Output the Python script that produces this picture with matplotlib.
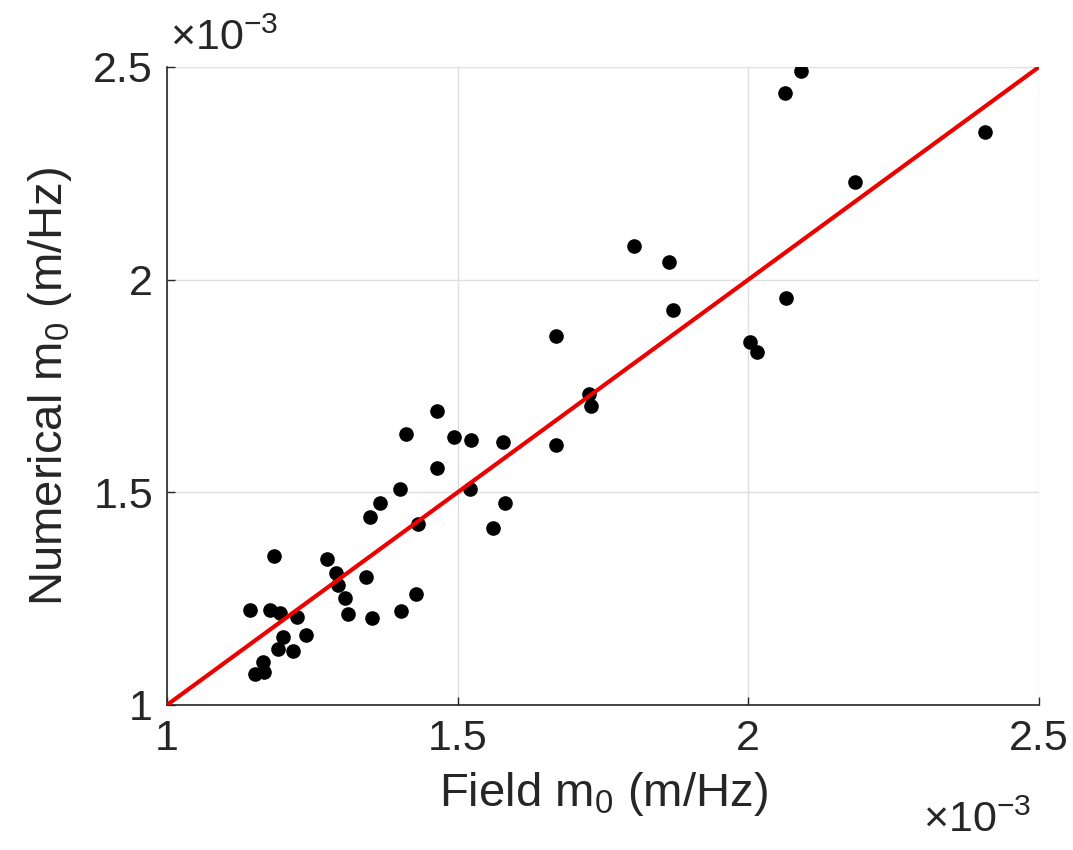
import matplotlib
matplotlib.use("Agg")
import matplotlib.pyplot as plt
import numpy as np

plt.rcParams["font.family"] = ["Liberation Sans", "DejaVu Sans"]
plt.rcParams["mathtext.fontset"] = "custom"
plt.rcParams["mathtext.rm"] = "Liberation Sans"
plt.rcParams["mathtext.it"] = "Liberation Sans"
plt.rcParams["mathtext.bf"] = "Liberation Sans:bold"

# Spectral moment m0 (units of 1e-3 m/Hz): field measurements vs numerical model
field_m0 = [1.465, 1.411, 1.494, 1.465, 1.401, 1.367, 1.349, 1.432, 1.184, 1.276,
            1.291, 1.343, 1.295, 1.307, 1.428, 1.143, 1.177, 1.194, 1.223, 1.312,
            1.353, 1.402, 1.200, 1.240, 1.191, 1.216, 1.165, 1.167, 1.151, 1.870,
            1.669, 1.726, 1.729, 1.523, 1.578, 1.669, 1.521, 1.581, 1.561, 1.804,
            1.863, 2.091, 2.063, 2.407, 2.183, 2.064, 2.003, 2.015]
numerical_m0 = [1.691, 1.637, 1.629, 1.558, 1.508, 1.474, 1.441, 1.426, 1.350, 1.344,
                1.311, 1.302, 1.282, 1.252, 1.262, 1.223, 1.223, 1.216, 1.208, 1.213,
                1.205, 1.221, 1.161, 1.164, 1.131, 1.126, 1.102, 1.078, 1.072, 1.929,
                1.868, 1.731, 1.703, 1.623, 1.618, 1.611, 1.507, 1.474, 1.415, 2.078,
                2.041, 2.491, 2.438, 2.346, 2.229, 1.956, 1.853, 1.831]
line_ends = [1.0, 2.5]
ticks = [1.0, 1.5, 2.0, 2.5]
tick_labels = ["1", "1.5", "2", "2.5"]

txt = (0.15, 0.15, 0.15)

fig = plt.figure(figsize=(10.73, 8.5), dpi=100)
ax = fig.add_axes([0.1556, 0.1706, 0.9683 - 0.1556, 0.9212 - 0.1706])

ax.plot(field_m0, numerical_m0, "o", color="black", ms=9.5, mec="black", zorder=3)
ax.plot(line_ends, line_ends, "-", color=(0.93, 0.0, 0.0), lw=3.0, zorder=4,
        solid_capstyle="butt")

ax.set_xlim(1.0, 2.5)
ax.set_ylim(1.0, 2.5)
ax.set_xticks(ticks)
ax.set_xticklabels(tick_labels)
ax.set_yticks(ticks)
ax.set_yticklabels(tick_labels)
ax.tick_params(direction="in", length=6, width=1, colors=txt, labelsize=31, pad=10)
ax.grid(True, color=(0.87, 0.87, 0.87), lw=1)
ax.set_axisbelow(True)
for s in ["top", "right"]:
    ax.spines[s].set_visible(False)
for s in ["left", "bottom"]:
    ax.spines[s].set_color(txt)
    ax.spines[s].set_linewidth(1.2)

ax.set_xlabel(r"Field m$_0$ (m/Hz)", fontsize=34, color=txt, labelpad=8)
ax.set_ylabel(r"Numerical m$_0$ (m/Hz)", fontsize=34, color=txt, labelpad=14)

fig.text(0.158, 0.930, r"$\times$10$^{-3}$", fontsize=31, color=txt, ha="left", va="bottom")
fig.text(0.860, 0.010, r"$\times$10$^{-3}$", fontsize=31, color=txt, ha="left", va="bottom")

fig.savefig("out.png", dpi=100, facecolor="white")
